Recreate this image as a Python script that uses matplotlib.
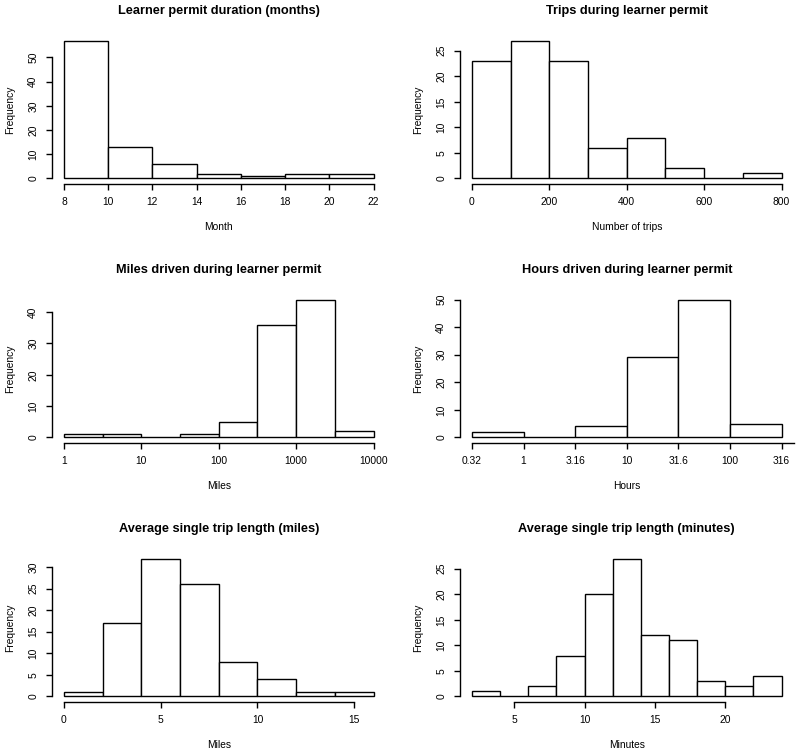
import numpy as np
import matplotlib.pyplot as plt

plt.rcParams['font.family'] = ['Liberation Sans', 'DejaVu Sans']

# learner permit duration (months)
month_edges = [8, 10, 12, 14, 16, 18, 20, 22]
month_counts = [57, 13, 6, 2, 1, 2, 2]

# trips during learner permit
trip_edges = [0, 100, 200, 300, 400, 500, 600, 700, 800]
trip_counts = [23, 27, 23, 6, 8, 2, 0, 1]

# miles driven, binned on log10 scale
miles_log_edges = [0, 0.5, 1, 1.5, 2, 2.5, 3, 3.5, 4]
miles_counts = [1, 1, 0, 1, 5, 36, 44, 2]
miles_ticks = [0, 1, 2, 3, 4]
miles_labels = ['1', '10', '100', '1000', '10000']

# hours driven, binned on log10 scale
hours_log_edges = [-0.5, 0, 0.5, 1, 1.5, 2, 2.5]
hours_counts = [2, 0, 4, 29, 50, 5]
hours_ticks = [-0.5, 0, 0.5, 1, 1.5, 2, 2.5]
hours_labels = ['0.32', '1', '3.16', '10', '31.6', '100', '316']

# average single trip length (miles)
tripmi_edges = [0, 2, 4, 6, 8, 10, 12, 14, 16]
tripmi_counts = [1, 17, 32, 26, 8, 4, 1, 1]

# average single trip length (minutes)
tripmin_edges = [2, 4, 6, 8, 10, 12, 14, 16, 18, 20, 22, 24]
tripmin_counts = [1, 0, 2, 8, 20, 27, 12, 11, 3, 2, 4]

W, H = 800, 754
fig = plt.figure(figsize=(W / 100, H / 100), dpi=100)

colLeft = [51.5, 459.5]
colWidth = 334.5
rowTop = [35, 294, 553]
rowHeight = 149

labelSize = 7.4
titleSize = 9.2


def drawHist(row, col, edges, counts, title, xlabel, xticks, xticklabels,
             yticks, axisToEdge=False):
    left = colLeft[col] / W
    bottom = (H - rowTop[row] - rowHeight) / H
    ax = fig.add_axes([left, bottom, colWidth / W, rowHeight / H])

    edges = np.array(edges, dtype=float)
    widths = np.diff(edges)
    ax.bar(edges[:-1], counts, width=widths, align='edge', color='white',
           edgecolor='black', linewidth=1.0)

    xr = edges[-1] - edges[0]
    ax.set_xlim(edges[0] - 0.04 * xr, edges[-1] + 0.04 * xr)
    ymax = max(counts)
    ax.set_ylim(-0.04 * ymax, ymax * 1.04)

    for s in ['top', 'right']:
        ax.spines[s].set_visible(False)
    ax.spines['left'].set_bounds(yticks[0], yticks[-1])
    if axisToEdge:
        ax.spines['bottom'].set_bounds(xticks[0], ax.get_xlim()[1])
    else:
        ax.spines['bottom'].set_bounds(xticks[0], xticks[-1])
    for s in ['left', 'bottom']:
        ax.spines[s].set_linewidth(1.0)

    ax.set_xticks(xticks)
    ax.set_xticklabels(xticklabels)
    ax.set_yticks(yticks)
    ax.set_yticklabels([str(v) for v in yticks], rotation=90, va='center')
    ax.tick_params(axis='both', length=4.5, width=1.0, labelsize=labelSize, pad=5)

    ax.annotate(title, xy=(0.5, 1), xycoords='axes fraction',
                xytext=(0, 17), textcoords='offset points',
                ha='center', va='center', fontsize=titleSize, fontweight='bold')
    ax.annotate(xlabel, xy=(0.5, 0), xycoords='axes fraction',
                xytext=(0, -31), textcoords='offset points',
                ha='center', va='center', fontsize=labelSize)
    ax.annotate('Frequency', xy=(0, 0.5), xycoords='axes fraction',
                xytext=(-30, 0), textcoords='offset points',
                ha='center', va='center', fontsize=labelSize, rotation=90)
    return ax


drawHist(0, 0, month_edges, month_counts, 'Learner permit duration (months)',
         'Month', [8, 10, 12, 14, 16, 18, 20, 22],
         ['8', '10', '12', '14', '16', '18', '20', '22'], [0, 10, 20, 30, 40, 50])
drawHist(0, 1, trip_edges, trip_counts, 'Trips during learner permit',
         'Number of trips', [0, 200, 400, 600, 800],
         ['0', '200', '400', '600', '800'], [0, 5, 10, 15, 20, 25])
drawHist(1, 0, miles_log_edges, miles_counts, 'Miles driven during learner permit',
         'Miles', miles_ticks, miles_labels, [0, 10, 20, 30, 40])
drawHist(1, 1, hours_log_edges, hours_counts, 'Hours driven during learner permit',
         'Hours', hours_ticks, hours_labels, [0, 10, 20, 30, 40, 50],
         axisToEdge=True)
drawHist(2, 0, tripmi_edges, tripmi_counts, 'Average single trip length (miles)',
         'Miles', [0, 5, 10, 15], ['0', '5', '10', '15'],
         [0, 5, 10, 15, 20, 25, 30])
drawHist(2, 1, tripmin_edges, tripmin_counts, 'Average single trip length (minutes)',
         'Minutes', [5, 10, 15, 20], ['5', '10', '15', '20'],
         [0, 5, 10, 15, 20, 25])

fig.savefig('out.png', dpi=100)
